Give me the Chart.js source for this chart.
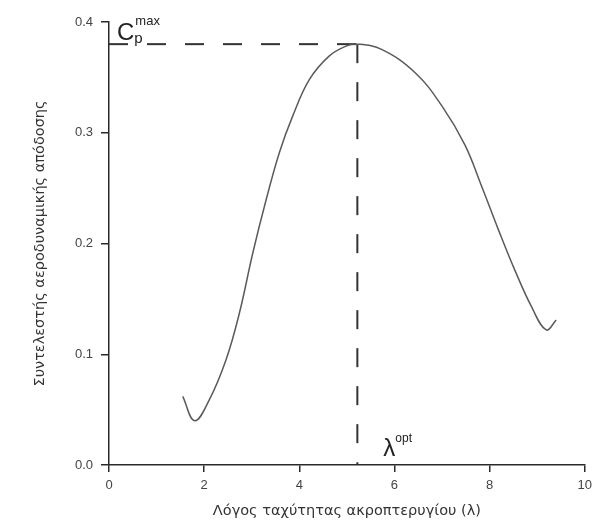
<!DOCTYPE html>
<html>
<head>
<meta charset="utf-8">
<script src="https://cdn.jsdelivr.net/npm/chart.js@4"></script>
<style>
    body { margin: 0; background: #ffffff; }
    canvas { display: block; }
</style>
</head>
<body>
<canvas id="cpChart" width="598" height="520"></canvas>
<script>
// tip speed ratio (λ) and power coefficient (Cp)
const lambdaValues = [1.55, 1.80, 2.11, 2.46, 2.74, 3.02, 3.30, 3.58, 3.86, 4.21, 4.62, 4.97, 5.22, 5.74, 6.44, 7.0, 7.48, 7.83, 8.18, 8.53, 8.88, 9.19, 9.40];
const cpValues = [0.062, 0.040, 0.059, 0.095, 0.137, 0.191, 0.239, 0.282, 0.315, 0.348, 0.369, 0.378, 0.380, 0.375, 0.354, 0.324, 0.289, 0.252, 0.213, 0.176, 0.143, 0.122, 0.131];

const lambdaOpt = 5.22;
const cpMax = 0.38;

const xTicks = [0, 2, 4, 6, 8, 10];
const yTicks = [0.0, 0.1, 0.2, 0.3, 0.4];

const xTitle = "Λόγος ταχύτητας ακροπτερυγίου (λ)";
const yTitle = "Συντελεστής αεροδυναμικής απόδοσης";

const curve = lambdaValues.map((x, i) => ({ x: x, y: cpValues[i] }));

const axisColor = "#2a2a2a";
const textColor = "#444444";

// Cp^max and λ^opt labels next to the dashed guides
const labelPlugin = {
    id: "optLabels",
    afterDatasetsDraw(chart) {
        const ctx = chart.ctx;
        const xs = chart.scales.x;
        const ys = chart.scales.y;

        ctx.save();
        ctx.fillStyle = "#222222";
        ctx.textBaseline = "alphabetic";
        ctx.textAlign = "left";

        const cx = xs.getPixelForValue(0) + 8;
        const cy = ys.getPixelForValue(cpMax) - 4;
        ctx.font = "24px 'Liberation Sans', Arial, sans-serif";
        ctx.fillText("C", cx, cy);
        const cw = ctx.measureText("C").width;
        ctx.font = "15px 'Liberation Sans', Arial, sans-serif";
        ctx.fillText("p", cx + cw, cy + 3);
        ctx.font = "13px 'Liberation Sans', Arial, sans-serif";
        ctx.fillText("max", cx + cw + 1, cy - 15);

        const lx = xs.getPixelForValue(lambdaOpt) + 26;
        const ly = ys.getPixelForValue(0) - 9;
        ctx.font = "24px 'Liberation Sans', Arial, sans-serif";
        ctx.fillText("λ", lx, ly);
        const lw = ctx.measureText("λ").width;
        ctx.font = "12px 'Liberation Sans', Arial, sans-serif";
        ctx.fillText("opt", lx + lw, ly - 14);

        ctx.restore();
    }
};

new Chart(
    document.getElementById("cpChart"),
    {
        type: "scatter",
        data: {
            datasets: [
                {
                    label: "Cp",
                    data: curve,
                    showLine: true,
                    borderColor: "#5a5a5a",
                    borderWidth: 1.5,
                    pointRadius: 0,
                    tension: 0.4
                },
                {
                    label: "Cp max",
                    data: [{ x: 0, y: cpMax }, { x: lambdaOpt, y: cpMax }],
                    showLine: true,
                    borderColor: "#333333",
                    borderWidth: 2,
                    borderDash: [19, 19],
                    pointRadius: 0
                },
                {
                    label: "λ opt",
                    data: [{ x: lambdaOpt, y: cpMax }, { x: lambdaOpt, y: 0 }],
                    showLine: true,
                    borderColor: "#333333",
                    borderWidth: 2,
                    borderDash: [19, 19],
                    pointRadius: 0
                }
            ]
        },
        options: {
            responsive: false,
            animation: false,
            layout: {
                padding: { left: 0, right: 12, top: 22, bottom: 0 }
            },
            scales: {
                x: {
                    type: "linear",
                    min: 0,
                    max: 10,
                    afterBuildTicks: (scale) => {
                        scale.ticks = xTicks.map(v => ({ value: v }));
                    },
                    afterFit: (scale) => {
                        scale.height = 55;
                    },
                    ticks: {
                        color: textColor,
                        padding: 6,
                        font: { family: "'Liberation Sans', Arial, sans-serif", size: 13 },
                        callback: (value) => value
                    },
                    grid: {
                        drawOnChartArea: false,
                        drawTicks: true,
                        tickLength: 7,
                        color: axisColor,
                        lineWidth: 1.5
                    },
                    border: { display: true, color: axisColor, width: 1.5 },
                    title: {
                        display: true,
                        text: xTitle,
                        color: "#333333",
                        font: { family: "'DejaVu Sans', sans-serif", size: 14.5 },
                        padding: { top: 4, bottom: 0 }
                    }
                },
                y: {
                    type: "linear",
                    min: 0,
                    max: 0.4,
                    afterBuildTicks: (scale) => {
                        scale.ticks = yTicks.map(v => ({ value: v }));
                    },
                    afterFit: (scale) => {
                        scale.width = 109;
                    },
                    ticks: {
                        color: textColor,
                        padding: 8,
                        font: { family: "'Liberation Sans', Arial, sans-serif", size: 13 },
                        callback: (value) => value.toFixed(1)
                    },
                    grid: {
                        drawOnChartArea: false,
                        drawTicks: true,
                        tickLength: 8,
                        color: axisColor,
                        lineWidth: 1.5
                    },
                    border: { display: true, color: axisColor, width: 1.5 },
                    title: {
                        display: true,
                        text: yTitle,
                        color: "#333333",
                        font: { family: "'DejaVu Sans', sans-serif", size: 14.5 },
                        padding: { top: 32, bottom: 0 }
                    }
                }
            },
            plugins: {
                legend: { display: false },
                tooltip: { enabled: false }
            }
        },
        plugins: [labelPlugin]
    }
);
</script>
</body>
</html>
